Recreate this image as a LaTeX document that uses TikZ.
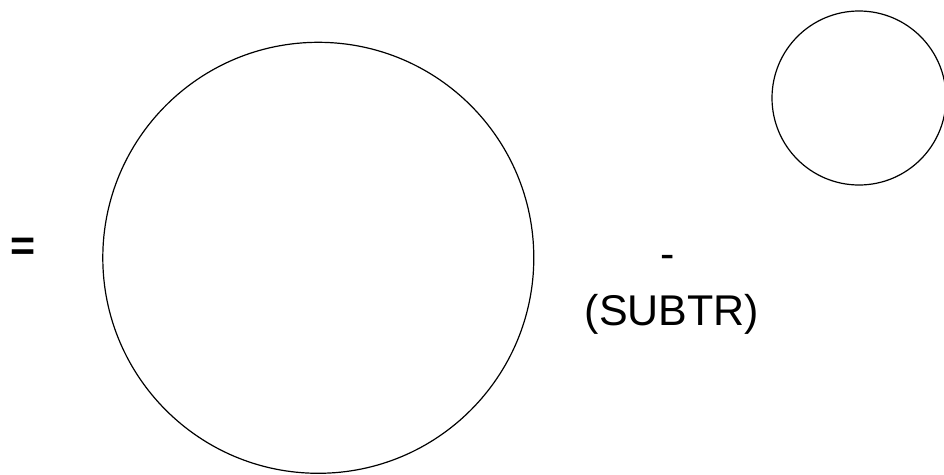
\documentclass[tikz,border=0pt]{standalone}
\usepackage{fontspec}
\setmainfont{Liberation Sans}
\begin{document}
\begin{tikzpicture}[x=1pt,y=-1pt,
  circ/.style={draw=black,line width=1.2pt,circle,inner sep=0pt,minimum size=#1},
  lbl/.style={font=\fontsize{43}{50}\selectfont,inner sep=0pt,anchor=base}]
\useasboundingbox (0,0) rectangle (944,474);
\node[circ=431pt] (big) at (318.3,257.8) {};
\node[circ=174pt] (small) at (859,98) {};
\node[lbl,font=\fontsize{43}{50}\selectfont\bfseries] (eq) at (23.5,260) {=};
\node[lbl] (minus) at (668,268) {-};
\node[lbl] (subtr) at (672,325) {(SUBTR)};
\end{tikzpicture}
\end{document}
